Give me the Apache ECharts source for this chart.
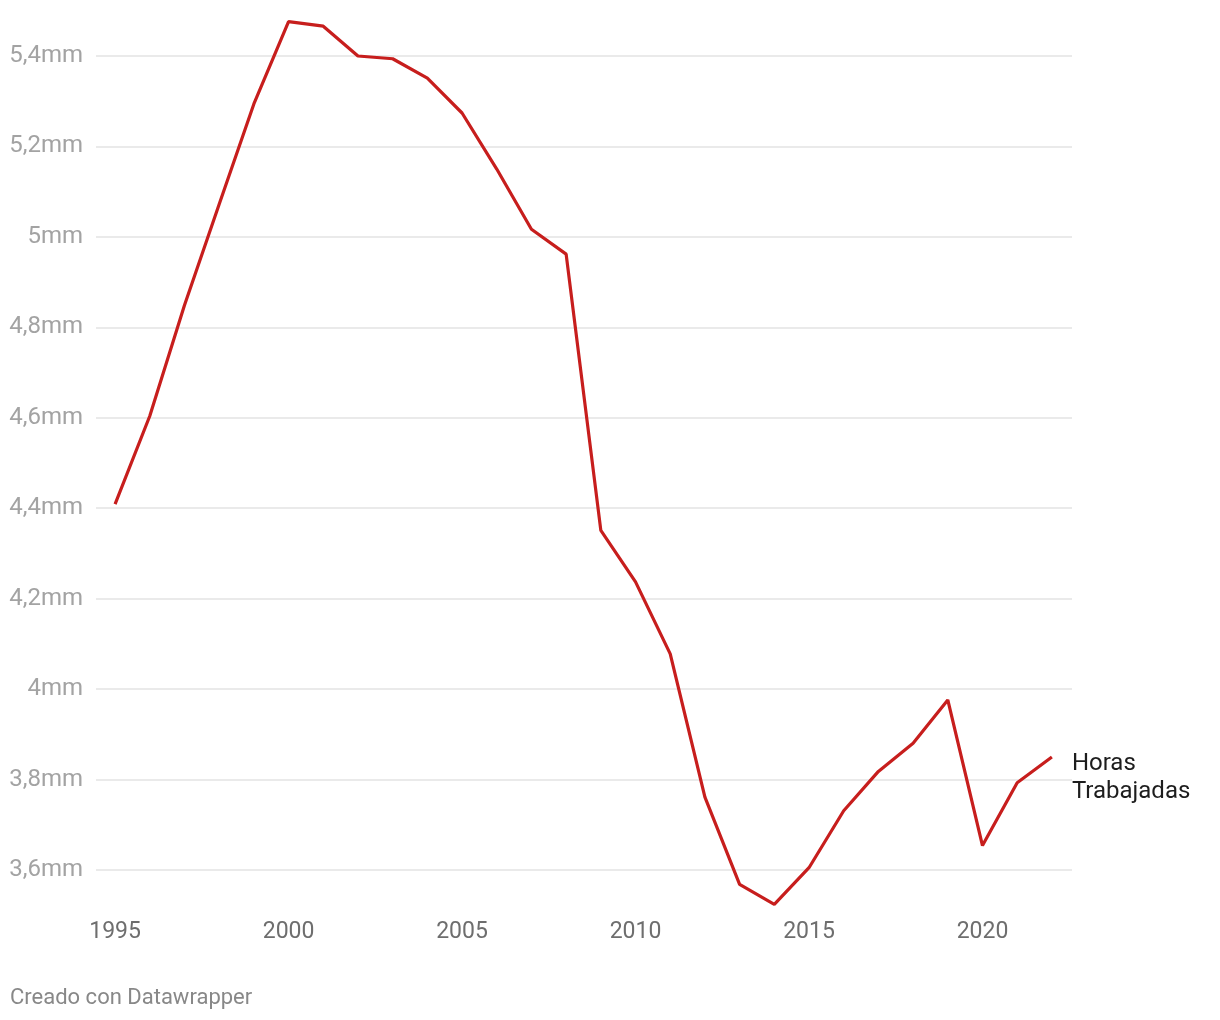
<!DOCTYPE html>
<html>
<head>
<meta charset="utf-8">
<script src="https://cdn.jsdelivr.net/npm/echarts@6/dist/echarts.min.js"></script>
<style>
html,body{margin:0;padding:0;background:#fff;}
#c{width:1220px;height:1020px;}
</style>
</head>
<body>
<div id="c"></div>
<script>
const years = [1995,1996,1997,1998,1999,2000,2001,2002,2003,2004,2005,2006,2007,2008,2009,2010,2011,2012,2013,2014,2015,2016,2017,2018,2019,2020,2021,2022];
const horas = [4.409,4.604,4.849,5.072,5.294,5.476,5.466,5.400,5.394,5.351,5.274,5.150,5.017,4.962,4.351,4.237,4.078,3.761,3.568,3.524,3.605,3.731,3.818,3.880,3.976,3.654,3.793,3.850];
const xTicks = [1995,2000,2005,2010,2015,2020];
const yTicks = [3.6,3.8,4.0,4.2,4.4,4.6,4.8,5.0,5.2,5.4];
const seriesName = 'Horas\nTrabajadas';
const credit = 'Creado con Datawrapper';

const chart = echarts.init(document.getElementById('c'));
chart.setOption({
  animation:false,
  textStyle:{fontFamily:'Roboto'},
  grid:{left:96,right:148,top:10.8,bottom:104.8,containLabel:false},
  xAxis:{
    type:'value',min:1994.45,max:2022.58,
    axisLine:{show:false},axisTick:{show:false},splitLine:{show:false},
    axisLabel:{customValues:xTicks,color:'#6e6e6e',fontSize:23,margin:6,fontFamily:'Roboto',
      formatter:v=>String(v)}
  },
  yAxis:{
    type:'value',min:3.5,max:5.5,
    axisLine:{show:false},
    axisTick:{show:false,customValues:yTicks},
    axisLabel:{customValues:yTicks,color:'#a3a3a3',fontSize:24,margin:13,fontFamily:'Roboto',
      padding:[8,0,0,0],
      formatter:v=>String(Math.round(v*10)/10).replace('.',',')+'mm'},
    splitLine:{show:true,lineStyle:{color:'#e3e3e3',width:1.5}}
  },
  series:[{
    type:'line',name:seriesName,
    data:years.map((y,i)=>[y,horas[i]]),
    showSymbol:false,
    lineStyle:{color:'#c71e1d',width:3.2},
    itemStyle:{color:'#c71e1d'},
    endLabel:{show:true,formatter:seriesName,color:'#1d1d1d',fontSize:24,lineHeight:28,
      fontFamily:'Roboto',align:'left',verticalAlign:'middle',offset:[12,21]}
  }],
  graphic:[{type:'text',left:10,top:987,style:{text:credit,fill:'#888888',fontSize:22,fontFamily:'Roboto'}}]
});
</script>
</body>
</html>
